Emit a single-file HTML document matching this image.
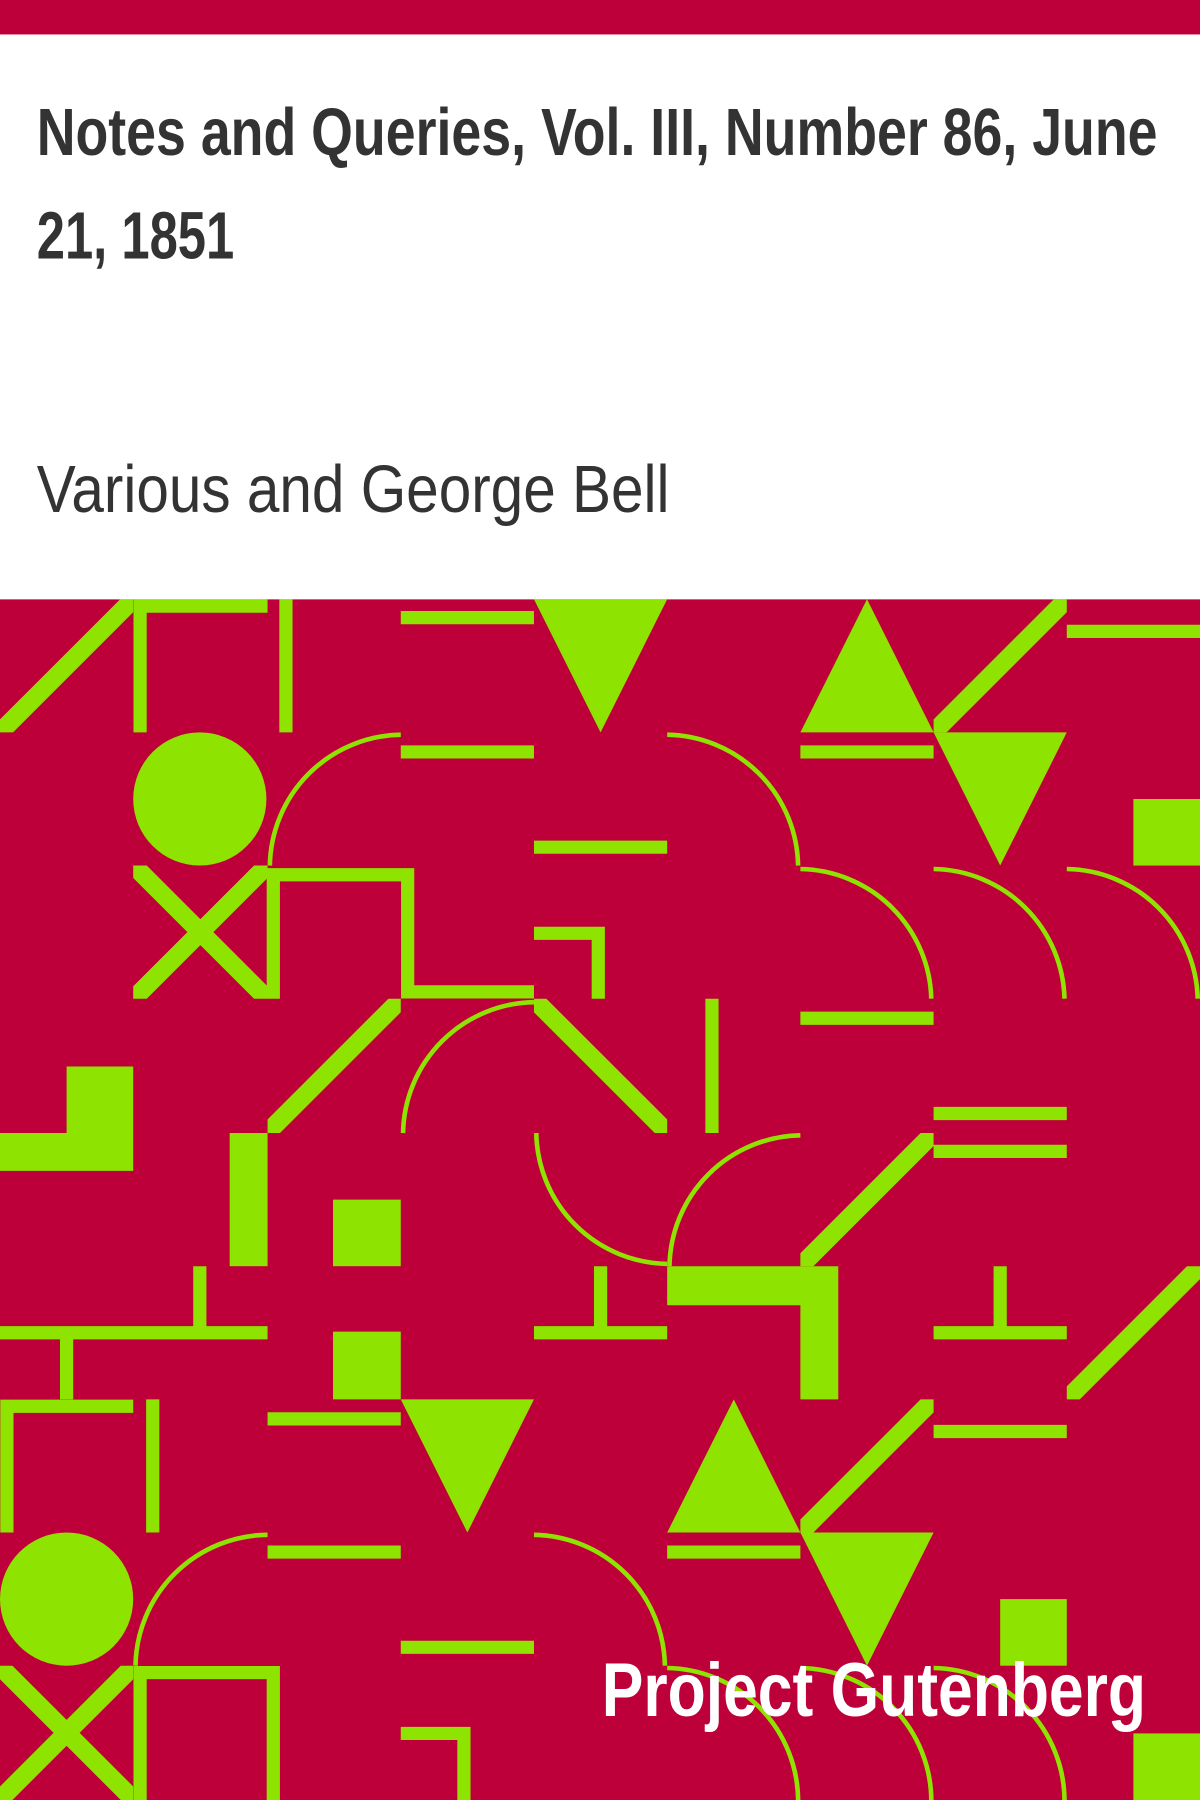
<!DOCTYPE html>
<html><head><meta charset="utf-8"><style>
html,body{margin:0;padding:0;background:#fff}
svg{display:block}
</style></head><body>
<svg width="1200" height="1800" viewBox="0 0 1045 1568" preserveAspectRatio="none" xmlns="http://www.w3.org/2000/svg">
<defs><clipPath id="pc"><rect x="0" y="522" width="1045" height="1046"/></clipPath></defs>
<rect x="0" y="0" width="1045" height="30" fill="#bd0039"/>
<text x="32" y="135" font-family="'Liberation Sans Narrow','Liberation Sans',sans-serif" font-weight="bold" font-size="58" fill="#333" textLength="976" lengthAdjust="spacingAndGlyphs">Notes and Queries, Vol. III, Number 86, June</text>
<text x="32" y="225" font-family="'Liberation Sans Narrow','Liberation Sans',sans-serif" font-weight="bold" font-size="58" fill="#333" textLength="172" lengthAdjust="spacingAndGlyphs">21, 1851</text>
<text x="32" y="446" font-family="'Liberation Sans Narrow','Liberation Sans',sans-serif" font-size="58" fill="#333" textLength="551" lengthAdjust="spacingAndGlyphs">Various and George Bell</text>
<g clip-path="url(#pc)">
<rect x="0" y="522" width="1045" height="1046" fill="#bd0039"/>
<g fill="#8fe300">
<polygon points="465,522 581,522 523,638"/>
<polygon points="697,638 813,638 755,522"/>
<polygon points="813,638 929,638 871,754"/>
<polygon points="349,1219 465,1219 407,1335"/>
<polygon points="581,1335 697,1335 639,1219"/>
<polygon points="697,1335 813,1335 755,1451"/>
<circle cx="174" cy="696" r="58"/>
<circle cx="58" cy="1393" r="58"/>
<rect x="987" y="696" width="58" height="58"/>
<polygon points="58,929 116,929 116,1020 0,1020 0,987 58,987"/>
<rect x="200" y="987" width="33" height="116"/>
<rect x="290" y="1045" width="59" height="58"/>
<rect x="290" y="1160" width="59" height="59"/>
<polygon points="581,1103 730,1103 730,1219 697,1219 697,1137 581,1137"/>
<rect x="871" y="1393" width="58" height="58"/>
<rect x="987" y="1510" width="58" height="58"/>
</g>
<g stroke="#8fe300" stroke-width="16" fill="none">
<svg x="0" y="522" width="116" height="116" viewBox="0 0 116 116" overflow="hidden"><line x1="-5" y1="121" x2="121" y2="-5"/></svg>
<svg x="813" y="522" width="116" height="116" viewBox="0 0 116 116" overflow="hidden"><line x1="-5" y1="121" x2="121" y2="-5"/></svg>
<svg x="116" y="754" width="117" height="116" viewBox="0 0 116 116" overflow="hidden"><line x1="-5" y1="-5" x2="121" y2="121"/><line x1="-5" y1="121" x2="121" y2="-5"/></svg>
<svg x="233" y="870" width="116" height="117" viewBox="0 0 116 116" overflow="hidden"><line x1="-5" y1="121" x2="121" y2="-5"/></svg>
<svg x="465" y="870" width="116" height="117" viewBox="0 0 116 116" overflow="hidden"><line x1="-5" y1="-5" x2="121" y2="121"/></svg>
<svg x="697" y="987" width="116" height="116" viewBox="0 0 116 116" overflow="hidden"><line x1="-5" y1="121" x2="121" y2="-5"/></svg>
<svg x="929" y="1103" width="116" height="116" viewBox="0 0 116 116" overflow="hidden"><line x1="-5" y1="121" x2="121" y2="-5"/></svg>
<svg x="697" y="1219" width="116" height="116" viewBox="0 0 116 116" overflow="hidden"><line x1="-5" y1="121" x2="121" y2="-5"/></svg>
<svg x="0" y="1451" width="116" height="117" viewBox="0 0 116 116" overflow="hidden"><line x1="-5" y1="-5" x2="121" y2="121"/><line x1="-5" y1="121" x2="121" y2="-5"/></svg>
</g>
<g stroke="#8fe300" stroke-width="11.5" fill="none">
<polyline points="122,638 122,528 233,528"/>
<line x1="249" y1="522" x2="249" y2="638"/>
<line x1="349" y1="538" x2="465" y2="538"/>
<line x1="929" y1="550" x2="1045" y2="550"/>
<line x1="349" y1="655" x2="465" y2="655"/>
<line x1="465" y1="738" x2="581" y2="738"/>
<line x1="697" y1="655" x2="813" y2="655"/>
<polyline points="238,870 238,762 355,762 355,864 465,864"/>
<polyline points="465,813 521,813 521,870"/>
<line x1="697" y1="887" x2="813" y2="887"/>
<line x1="620" y1="870" x2="620" y2="987"/>
<line x1="813" y1="970" x2="929" y2="970"/>
<line x1="813" y1="1003" x2="929" y2="1003"/>
<polyline points="0,1161 233,1161"/>
<line x1="174" y1="1103" x2="174" y2="1161"/>
<line x1="58" y1="1161" x2="58" y2="1219"/>
<polyline points="6,1335 6,1225 116,1225"/>
<line x1="465" y1="1161" x2="581" y2="1161"/>
<line x1="523" y1="1103" x2="523" y2="1161"/>
<line x1="813" y1="1161" x2="929" y2="1161"/>
<line x1="871" y1="1103" x2="871" y2="1161"/>
<line x1="133" y1="1219" x2="133" y2="1335"/>
<line x1="233" y1="1236" x2="349" y2="1236"/>
<line x1="813" y1="1247" x2="929" y2="1247"/>
<line x1="233" y1="1352" x2="349" y2="1352"/>
<line x1="349" y1="1435" x2="465" y2="1435"/>
<line x1="581" y1="1352" x2="697" y2="1352"/>
<polyline points="122,1568 122,1457 238,1457 238,1568"/>
<polyline points="349,1510 404,1510 404,1568"/>
</g>
<g stroke="#8fe300" stroke-width="4" fill="none">
<path d="M235,754 A116,116 0 0 1 349,640"/>
<path d="M581,640 A116,116 0 0 1 695,754"/>
<path d="M697,757 A116,116 0 0 1 811,870"/>
<path d="M813,757 A116,116 0 0 1 927,870"/>
<path d="M929,757 A116,116 0 0 1 1043,870"/>
<path d="M351,987 A116,116 0 0 1 465,873"/>
<path d="M467,987 A116,116 0 0 0 581,1101"/>
<path d="M583,1103 A116,116 0 0 1 697,989"/>
<path d="M118,1451 A116,116 0 0 1 233,1337"/>
<path d="M465,1337 A116,116 0 0 1 579,1451"/>
<path d="M581,1453 A116,116 0 0 1 695,1568"/>
<path d="M697,1453 A116,116 0 0 1 811,1568"/>
<path d="M813,1453 A116,116 0 0 1 927,1568"/>
</g>
</g>
<text x="998" y="1495" text-anchor="end" font-family="'Liberation Sans Narrow','Liberation Sans',sans-serif" font-weight="bold" font-size="66" fill="#fff" textLength="474" lengthAdjust="spacingAndGlyphs">Project Gutenberg</text>
</svg>
</body></html>
